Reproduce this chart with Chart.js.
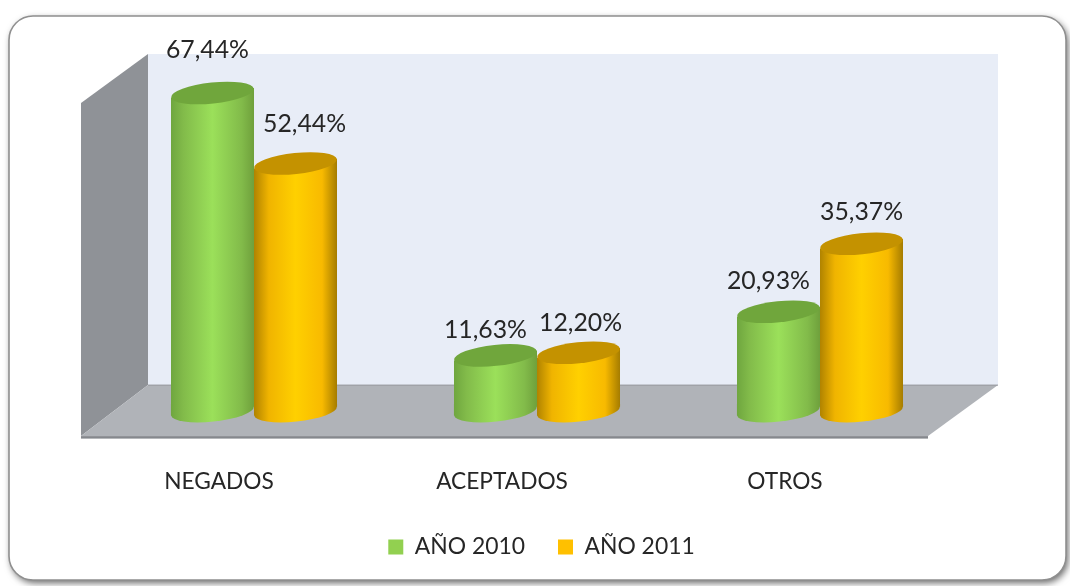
<!DOCTYPE html>
<html><head><meta charset="utf-8">
<script src="https://cdn.jsdelivr.net/npm/chart.js@4"></script>
<style>html,body{margin:0;padding:0;background:#fff}canvas{display:block}</style>
</head><body><div style="width:1070px;height:586px"><canvas id="c"></canvas></div>
<script>
const categories = ['NEGADOS','ACEPTADOS','OTROS'];
const seriesNames = ['AÑO 2010','AÑO 2011'];
const values2010 = [67.44,11.63,20.93];
const values2011 = [52.44,12.20,35.37];
const legendColors = ['#92d050','#ffc000'];
const topColors = ['#70a63c','#c49200'];
const sideStops = [
  [[0,'#6fa63f'],[0.15,'#82bb4a'],[0.5,'#9be05a'],[0.85,'#82bb4a'],[1,'#6fa03c']],
  [[0,'#b08300'],[0.18,'#f0b400'],[0.5,'#ffd000'],[0.82,'#f8ba00'],[1,'#a57c00']]
];
const labelShift = [[-5,-10,-10],[9,2,0]];
const labelRise = [[38,20,26],[35,25,27]];
const fontName = 'Lato, Carlito, "Open Sans", sans-serif';
const fmt = v => v.toFixed(2).replace('.',',')+'%';
const TILT = -0.105, RY = 10.5, LIFT = 5;

function grad(c,x0,w,ds){const g=c.createLinearGradient(x0,0,x0+w,0);sideStops[ds].forEach(s=>g.addColorStop(s[0],s[1]));return g;}

const scene = {
  id:'scene',
  beforeDraw(chart){
    const c=chart.ctx, y=chart.scales.y, zero=y.getPixelForValue(0);
    c.save();
    // card
    c.save();
    c.shadowColor='rgba(0,0,0,0.6)';c.shadowBlur=7;c.shadowOffsetX=2;c.shadowOffsetY=3;
    c.fillStyle='#fff';c.beginPath();c.roundRect(9,16,1057,564,24);c.fill();
    c.restore();
    c.strokeStyle='#8f8f8f';c.lineWidth=1.6;c.beginPath();c.roundRect(9,16,1057,564,24);c.stroke();
    // walls
    const bx0=148,bx1=998,by0=54,by1=zero-20,fx0=81,fx1=928,fy=zero+31;
    c.fillStyle='#e8edf7';c.fillRect(bx0,by0,bx1-bx0,by1-by0);
    c.fillStyle='#8f9297';c.beginPath();c.moveTo(fx0,103);c.lineTo(bx0,by0);c.lineTo(bx0,by1);c.lineTo(fx0,fy);c.closePath();c.fill();
    c.fillStyle='#b0b3b8';c.beginPath();c.moveTo(fx0,fy);c.lineTo(bx0,by1);c.lineTo(bx1,by1);c.lineTo(fx1,fy);c.closePath();c.fill();
    c.strokeStyle='#95989d';c.lineWidth=1;c.beginPath();c.moveTo(bx0,by1);c.lineTo(bx1,by1);c.stroke();
    c.fillStyle='#85888d';c.fillRect(fx0,fy,fx1-fx0,2.5);
    c.restore();
  },
  beforeDatasetsDraw(chart){
    const c=chart.ctx, zero=chart.scales.y.getPixelForValue(0);
    [0,1].forEach(ds=>{
      chart.getDatasetMeta(ds).data.forEach(el=>{
        const {x,y,width:w}=el.getProps(['x','y','width'],true), x0=x-w/2, rx=w/2, cy=y+LIFT, g=grad(c,x0,w,ds);
        // foot of the cylinder
        c.fillStyle=g;
        c.beginPath();c.ellipse(x,zero+LIFT+1,rx,RY,TILT,0,Math.PI*2);c.fill();
        c.beginPath();c.moveTo(x-rx,zero-1);c.lineTo(x+rx,zero-1);c.lineTo(x+rx,zero+1.6);c.lineTo(x-rx,zero+10.4);c.closePath();c.fill();
        // side, trimmed along the tilted top
        c.save();c.beginPath();c.moveTo(x0,cy+LIFT);c.lineTo(x0+w,cy-LIFT);c.lineTo(x0+w,zero+1);c.lineTo(x0,zero+1);c.closePath();c.clip();
        const own=el.options;
        el.options=Object.create(own,{backgroundColor:{value:g}});
        el.draw(c);
        el.options=own;
        c.restore();
        // top cap
        c.fillStyle=topColors[ds];
        c.beginPath();c.ellipse(x,cy,rx,RY,TILT,0,Math.PI*2);c.fill();
      });
    });
    return false;
  },
  afterDraw(chart){
    const c=chart.ctx;
    c.save();c.font='24.8px '+fontName;c.fillStyle='#262626';c.textAlign='center';c.textBaseline='middle';
    [values2010,values2011].forEach((vals,ds)=>{
      chart.getDatasetMeta(ds).data.forEach((el,i)=>{
        c.fillText(fmt(vals[i]),el.x+labelShift[ds][i],el.y-labelRise[ds][i]);
      });
    });
    c.restore();
  },
  afterLayout(chart){const l=chart.legend;l.left+=4.5;l.right+=4.5;l.top-=17.5;l.bottom-=17.5;}
};

new Chart(document.getElementById('c'),{
  type:'bar',
  data:{labels:categories,datasets:[values2010,values2011].map((vals,ds)=>({
    label:seriesNames[ds],data:vals,
    backgroundColor:legendColors[ds],
    borderWidth:0
  }))},
  options:{
    responsive:true,maintainAspectRatio:false,animation:false,
    layout:{padding:{left:112.5,right:108.5,top:76,bottom:0}},
    datasets:{bar:{categoryPercentage:0.587,barPercentage:1}},
    plugins:{
      tooltip:{enabled:false},
      legend:{position:'bottom',labels:{boxWidth:15,boxHeight:15,padding:33,color:'#262626',font:{family:fontName,size:22.9}}}
    },
    scales:{
      y:{display:false,min:0,max:70},
      x:{grid:{display:false},border:{display:false},
         ticks:{color:'#262626',font:{family:fontName,size:22.7},padding:55,labelOffset:-35,maxRotation:0},
         afterFit(s){s.height=115;}}
    }
  },
  plugins:[scene]
});
</script></body></html>
